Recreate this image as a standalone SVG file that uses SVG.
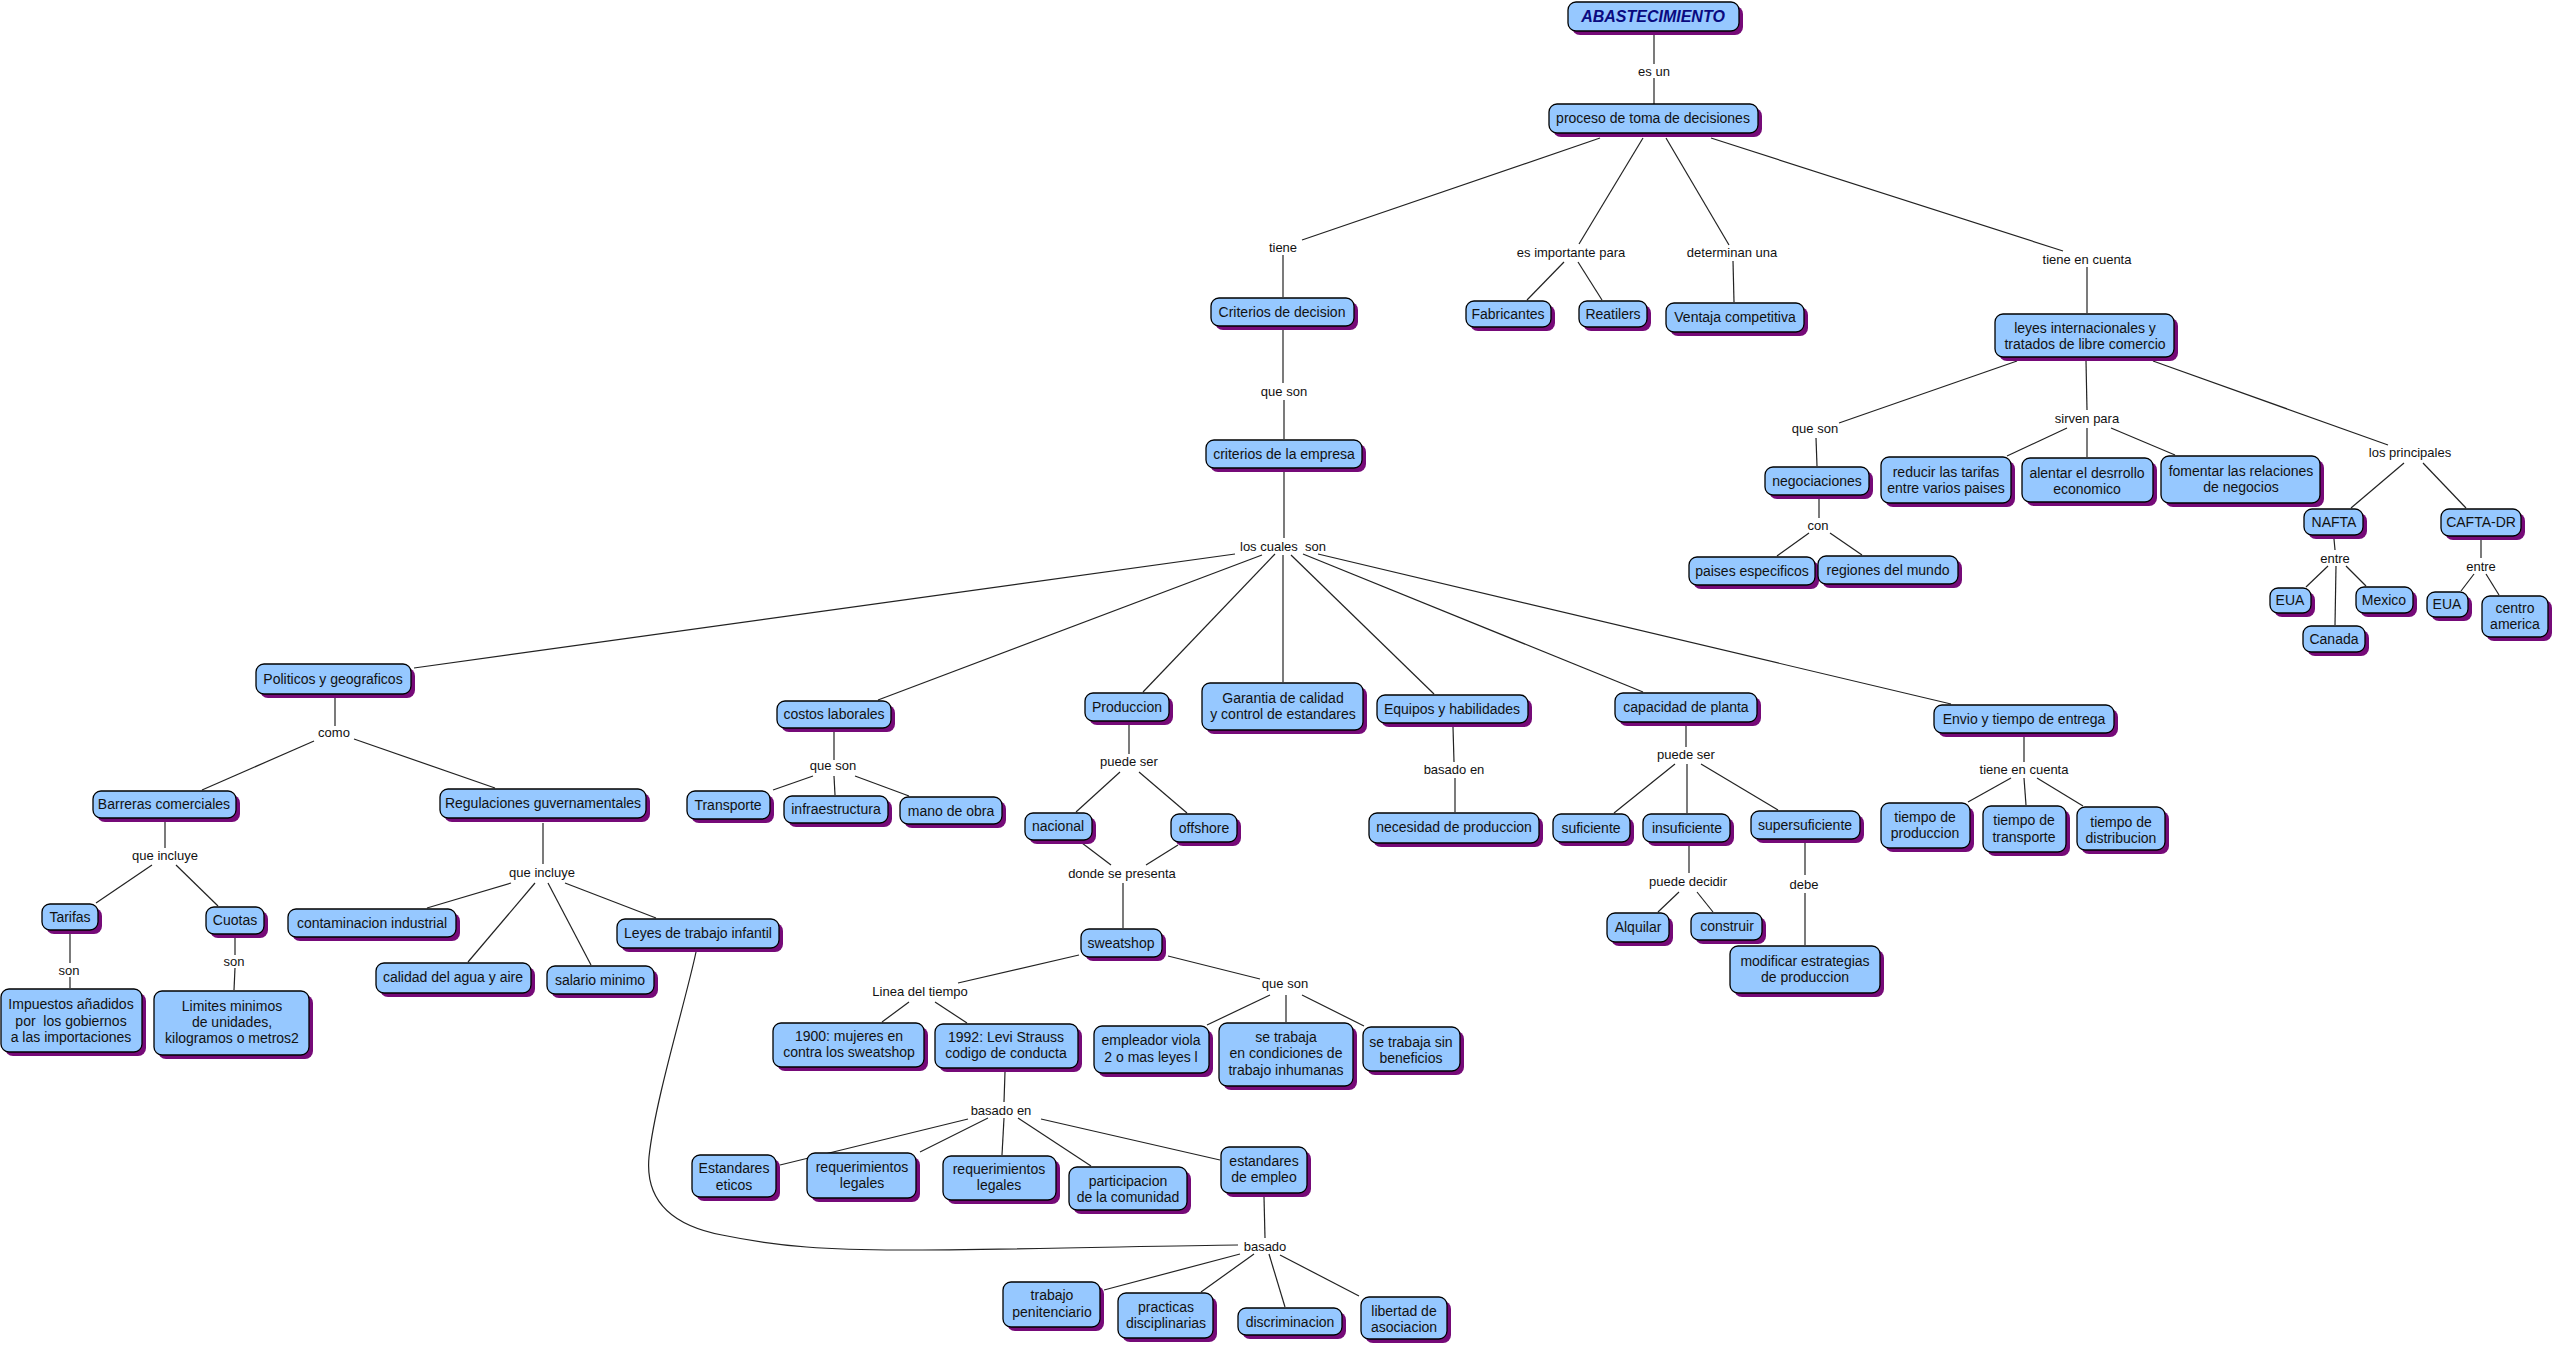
<svg xmlns="http://www.w3.org/2000/svg" width="2553" height="1345" viewBox="0 0 2553 1345">
<style>
.s{fill:#760a78}
.b{fill:#96c8ff;stroke:#000;stroke-width:1.3}
text{font-family:"Liberation Sans",Arial,sans-serif;font-size:14px;text-anchor:middle;fill:#111}
.l{font-size:13px}
.ti{font-weight:bold;font-style:italic;font-size:16px;fill:#0a0a80}
#conn line,#conn path{stroke:#222;stroke-width:1.2;fill:none}
</style>
<rect width="2553" height="1345" fill="#fff"/>
<g id="conn">
<line x1="1654" y1="34" x2="1654" y2="64"/><line x1="1654" y1="78" x2="1654" y2="104"/>
<line x1="1600" y1="138" x2="1302" y2="240"/><line x1="1283" y1="255" x2="1283" y2="297"/>
<line x1="1643" y1="138" x2="1579" y2="244"/><line x1="1564" y1="262" x2="1527" y2="300"/><line x1="1578" y1="262" x2="1602" y2="300"/>
<line x1="1666" y1="138" x2="1729" y2="245"/><line x1="1733" y1="261" x2="1734" y2="302"/>
<line x1="1711" y1="138" x2="2063" y2="251"/><line x1="2087" y1="267" x2="2087" y2="313"/>
<line x1="1283" y1="330" x2="1283" y2="383"/><line x1="1284" y1="400" x2="1284" y2="439"/>
<line x1="2017" y1="361" x2="1839" y2="423"/><line x1="1816" y1="438" x2="1817" y2="466"/>
<line x1="2086" y1="361" x2="2087" y2="410"/><line x1="2067" y1="428" x2="2007" y2="456"/><line x1="2087" y1="428" x2="2087" y2="457"/><line x1="2111" y1="428" x2="2175" y2="455"/>
<line x1="2153" y1="361" x2="2388" y2="445"/><line x1="2404" y1="463" x2="2351" y2="508"/><line x1="2423" y1="463" x2="2466" y2="508"/>
<line x1="1819" y1="499" x2="1819" y2="518"/><line x1="1809" y1="533" x2="1777" y2="556"/><line x1="1830" y1="533" x2="1862" y2="555"/>
<line x1="2334" y1="539" x2="2335" y2="550"/><line x1="2328" y1="566" x2="2306" y2="587"/><line x1="2346" y1="566" x2="2366" y2="586"/><line x1="2336" y1="566" x2="2335" y2="625"/>
<line x1="2481" y1="540" x2="2481" y2="558"/><line x1="2474" y1="574" x2="2461" y2="591"/><line x1="2486" y1="574" x2="2499" y2="595"/>
<line x1="1284" y1="472" x2="1284" y2="538"/>
<line x1="1235" y1="554" x2="414" y2="668"/>
<line x1="1262" y1="555" x2="878" y2="700"/>
<line x1="1275" y1="554" x2="1143" y2="692"/>
<line x1="1283" y1="555" x2="1283" y2="682"/>
<line x1="1291" y1="555" x2="1434" y2="694"/>
<line x1="1303" y1="554" x2="1643" y2="692"/>
<line x1="1318" y1="554" x2="1951" y2="704"/>
<line x1="335" y1="698" x2="335" y2="726"/><line x1="314" y1="741" x2="202" y2="790"/><line x1="354" y1="739" x2="495" y2="788"/>
<line x1="165" y1="821" x2="165" y2="848"/><line x1="152" y1="865" x2="96" y2="903"/><line x1="176" y1="865" x2="218" y2="906"/>
<line x1="543" y1="823" x2="543" y2="864"/><line x1="511" y1="883" x2="427" y2="908"/><line x1="535" y1="883" x2="468" y2="962"/><line x1="548" y1="883" x2="591" y2="965"/><line x1="565" y1="883" x2="656" y2="918"/>
<line x1="70" y1="933" x2="70" y2="963"/><line x1="70" y1="977" x2="70" y2="988"/>
<line x1="235" y1="938" x2="235" y2="955"/><line x1="235" y1="968" x2="234" y2="990"/>
<line x1="834" y1="732" x2="834" y2="760"/><line x1="813" y1="776" x2="773" y2="790"/><line x1="834" y1="776" x2="835" y2="795"/><line x1="855" y1="776" x2="909" y2="796"/>
<line x1="1129" y1="724" x2="1129" y2="754"/><line x1="1120" y1="772" x2="1076" y2="812"/><line x1="1139" y1="772" x2="1187" y2="813"/>
<line x1="1082" y1="843" x2="1111" y2="865"/><line x1="1178" y1="845" x2="1146" y2="865"/><line x1="1123" y1="883" x2="1123" y2="928"/>
<line x1="1453" y1="727" x2="1454" y2="762"/><line x1="1455" y1="778" x2="1455" y2="812"/>
<line x1="1686" y1="726" x2="1686" y2="747"/><line x1="1675" y1="764" x2="1614" y2="813"/><line x1="1687" y1="764" x2="1687" y2="813"/><line x1="1701" y1="764" x2="1778" y2="810"/>
<line x1="2024" y1="737" x2="2024" y2="762"/><line x1="2011" y1="778" x2="1968" y2="802"/><line x1="2024" y1="778" x2="2026" y2="805"/><line x1="2037" y1="778" x2="2083" y2="806"/>
<line x1="1689" y1="846" x2="1689" y2="873"/><line x1="1679" y1="892" x2="1658" y2="912"/><line x1="1697" y1="892" x2="1713" y2="912"/>
<line x1="1805" y1="843" x2="1805" y2="875"/><line x1="1805" y1="893" x2="1805" y2="945"/>
<line x1="1079" y1="955" x2="958" y2="983"/><line x1="909" y1="1002" x2="882" y2="1022"/><line x1="935" y1="1002" x2="967" y2="1023"/>
<line x1="1168" y1="956" x2="1260" y2="979"/><line x1="1270" y1="995" x2="1207" y2="1025"/><line x1="1286" y1="995" x2="1286" y2="1022"/><line x1="1302" y1="995" x2="1364" y2="1026"/>
<line x1="1005" y1="1072" x2="1004" y2="1102"/><line x1="968" y1="1119" x2="780" y2="1165"/><line x1="988" y1="1118" x2="920" y2="1152"/><line x1="1004" y1="1118" x2="1002" y2="1155"/><line x1="1018" y1="1118" x2="1091" y2="1166"/><line x1="1041" y1="1119" x2="1220" y2="1160"/>
<line x1="1264" y1="1197" x2="1265" y2="1238"/>
<path d="M696,952 C686,1000 655,1100 649,1157 C645,1200 670,1225 722,1235 C780,1247 830,1250 900,1250 C1000,1250 1150,1246 1238,1245"/>
<line x1="1240" y1="1254" x2="1104" y2="1290"/><line x1="1254" y1="1254" x2="1201" y2="1292"/><line x1="1269" y1="1254" x2="1285" y2="1307"/><line x1="1280" y1="1255" x2="1359" y2="1296"/>
</g>
<g id="labels">
<text class="l" x="1654" y="76">es un</text>
<text class="l" x="1283" y="252">tiene</text>
<text class="l" x="1571" y="257">es importante para</text>
<text class="l" x="1732" y="257">determinan una</text>
<text class="l" x="2087" y="264">tiene en cuenta</text>
<text class="l" x="1284" y="396">que son</text>
<text class="l" x="1815" y="433">que son</text>
<text class="l" x="2087" y="423">sirven para</text>
<text class="l" x="2410" y="457">los principales</text>
<text class="l" x="1818" y="530">con</text>
<text class="l" x="2335" y="563">entre</text>
<text class="l" x="2481" y="571">entre</text>
<text class="l" x="1283" y="551" xml:space="preserve">los cuales  son</text>
<text class="l" x="334" y="737">como</text>
<text class="l" x="833" y="770">que son</text>
<text class="l" x="1129" y="766">puede ser</text>
<text class="l" x="1454" y="774">basado en</text>
<text class="l" x="1686" y="759">puede ser</text>
<text class="l" x="2024" y="774">tiene en cuenta</text>
<text class="l" x="165" y="860">que incluye</text>
<text class="l" x="542" y="877">que incluye</text>
<text class="l" x="1122" y="878">donde se presenta</text>
<text class="l" x="1688" y="886">puede decidir</text>
<text class="l" x="1804" y="889">debe</text>
<text class="l" x="69" y="975">son</text>
<text class="l" x="234" y="966">son</text>
<text class="l" x="920" y="996">Linea del tiempo</text>
<text class="l" x="1285" y="988">que son</text>
<text class="l" x="1001" y="1115">basado en</text>
<text class="l" x="1265" y="1251">basado</text>
</g>
<g id="n-abast"><rect class="s" x="1572" y="6" width="171" height="29" rx="8"/><rect class="b" x="1568" y="2" width="171" height="29" rx="8"/><text class="ti" x="1653" y="22">ABASTECIMIENTO</text></g>
<g id="n-proceso"><rect class="s" x="1553" y="108" width="209" height="29" rx="8"/><rect class="b" x="1549" y="104" width="209" height="29" rx="8"/><text x="1653" y="123">proceso de toma de decisiones</text></g>
<g id="n-criterios"><rect class="s" x="1215" y="302" width="143" height="28" rx="8"/><rect class="b" x="1211" y="298" width="143" height="28" rx="8"/><text x="1282" y="317">Criterios de decision</text></g>
<g id="n-fabricantes"><rect class="s" x="1470" y="305" width="85" height="26" rx="8"/><rect class="b" x="1466" y="301" width="85" height="26" rx="8"/><text x="1508" y="319">Fabricantes</text></g>
<g id="n-reatilers"><rect class="s" x="1583" y="305" width="68" height="26" rx="8"/><rect class="b" x="1579" y="301" width="68" height="26" rx="8"/><text x="1613" y="319">Reatilers</text></g>
<g id="n-ventaja"><rect class="s" x="1670" y="307" width="138" height="29" rx="8"/><rect class="b" x="1666" y="303" width="138" height="29" rx="8"/><text x="1735" y="322">Ventaja competitiva</text></g>
<g id="n-leyes"><rect class="s" x="1999" y="318" width="179" height="43" rx="8"/><rect class="b" x="1995" y="314" width="179" height="43" rx="8"/><text x="2085" y="333">leyes internacionales y</text><text x="2085" y="349">tratados de libre comercio</text></g>
<g id="n-empresa"><rect class="s" x="1210" y="444" width="156" height="28" rx="8"/><rect class="b" x="1206" y="440" width="156" height="28" rx="8"/><text x="1284" y="459">criterios de la empresa</text></g>
<g id="n-negociaciones"><rect class="s" x="1769" y="471" width="104" height="28" rx="8"/><rect class="b" x="1765" y="467" width="104" height="28" rx="8"/><text x="1817" y="486">negociaciones</text></g>
<g id="n-reducir"><rect class="s" x="1885" y="461" width="130" height="46" rx="8"/><rect class="b" x="1881" y="457" width="130" height="46" rx="8"/><text x="1946" y="477">reducir las tarifas</text><text x="1946" y="493">entre varios paises</text></g>
<g id="n-alentar"><rect class="s" x="2026" y="462" width="131" height="44" rx="8"/><rect class="b" x="2022" y="458" width="131" height="44" rx="8"/><text x="2087" y="478">alentar el desrrollo</text><text x="2087" y="494">economico</text></g>
<g id="n-fomentar"><rect class="s" x="2165" y="460" width="159" height="47" rx="8"/><rect class="b" x="2161" y="456" width="159" height="47" rx="8"/><text x="2241" y="476">fomentar las relaciones</text><text x="2241" y="492">de negocios</text></g>
<g id="n-paises"><rect class="s" x="1693" y="561" width="126" height="28" rx="8"/><rect class="b" x="1689" y="557" width="126" height="28" rx="8"/><text x="1752" y="576">paises especificos</text></g>
<g id="n-regiones"><rect class="s" x="1822" y="560" width="140" height="28" rx="8"/><rect class="b" x="1818" y="556" width="140" height="28" rx="8"/><text x="1888" y="575">regiones del mundo</text></g>
<g id="n-nafta"><rect class="s" x="2308" y="513" width="59" height="26" rx="8"/><rect class="b" x="2304" y="509" width="59" height="26" rx="8"/><text x="2334" y="527">NAFTA</text></g>
<g id="n-cafta"><rect class="s" x="2445" y="513" width="80" height="27" rx="8"/><rect class="b" x="2441" y="509" width="80" height="27" rx="8"/><text x="2481" y="527">CAFTA-DR</text></g>
<g id="n-eua1"><rect class="s" x="2274" y="592" width="41" height="25" rx="8"/><rect class="b" x="2270" y="588" width="41" height="25" rx="8"/><text x="2290" y="605">EUA</text></g>
<g id="n-mexico"><rect class="s" x="2360" y="591" width="57" height="26" rx="8"/><rect class="b" x="2356" y="587" width="57" height="26" rx="8"/><text x="2384" y="605">Mexico</text></g>
<g id="n-canada"><rect class="s" x="2307" y="630" width="62" height="26" rx="8"/><rect class="b" x="2303" y="626" width="62" height="26" rx="8"/><text x="2334" y="644">Canada</text></g>
<g id="n-eua2"><rect class="s" x="2431" y="596" width="41" height="25" rx="8"/><rect class="b" x="2427" y="592" width="41" height="25" rx="8"/><text x="2447" y="609">EUA</text></g>
<g id="n-centro"><rect class="s" x="2486" y="600" width="66" height="41" rx="8"/><rect class="b" x="2482" y="596" width="66" height="41" rx="8"/><text x="2515" y="613">centro</text><text x="2515" y="629">america</text></g>
<g id="n-politicos"><rect class="s" x="260" y="668" width="155" height="30" rx="8"/><rect class="b" x="256" y="664" width="155" height="30" rx="8"/><text x="333" y="684">Politicos y geograficos</text></g>
<g id="n-costos"><rect class="s" x="781" y="705" width="114" height="27" rx="8"/><rect class="b" x="777" y="701" width="114" height="27" rx="8"/><text x="834" y="719">costos laborales</text></g>
<g id="n-produccion"><rect class="s" x="1089" y="697" width="84" height="28" rx="8"/><rect class="b" x="1085" y="693" width="84" height="28" rx="8"/><text x="1127" y="712">Produccion</text></g>
<g id="n-garantia"><rect class="s" x="1206" y="687" width="161" height="47" rx="8"/><rect class="b" x="1202" y="683" width="161" height="47" rx="8"/><text x="1283" y="703">Garantia de calidad</text><text x="1283" y="719">y control de estandares</text></g>
<g id="n-equipos"><rect class="s" x="1381" y="699" width="151" height="28" rx="8"/><rect class="b" x="1377" y="695" width="151" height="28" rx="8"/><text x="1452" y="714">Equipos y habilidades</text></g>
<g id="n-capacidad"><rect class="s" x="1619" y="697" width="142" height="29" rx="8"/><rect class="b" x="1615" y="693" width="142" height="29" rx="8"/><text x="1686" y="712">capacidad de planta</text></g>
<g id="n-envio"><rect class="s" x="1938" y="709" width="180" height="28" rx="8"/><rect class="b" x="1934" y="705" width="180" height="28" rx="8"/><text x="2024" y="724">Envio y tiempo de entrega</text></g>
<g id="n-barreras"><rect class="s" x="97" y="795" width="143" height="27" rx="8"/><rect class="b" x="93" y="791" width="143" height="27" rx="8"/><text x="164" y="809">Barreras comerciales</text></g>
<g id="n-regulaciones"><rect class="s" x="444" y="793" width="206" height="29" rx="8"/><rect class="b" x="440" y="789" width="206" height="29" rx="8"/><text x="543" y="808">Regulaciones guvernamentales</text></g>
<g id="n-transporte"><rect class="s" x="691" y="795" width="83" height="28" rx="8"/><rect class="b" x="687" y="791" width="83" height="28" rx="8"/><text x="728" y="810">Transporte</text></g>
<g id="n-infra"><rect class="s" x="788" y="800" width="104" height="27" rx="8"/><rect class="b" x="784" y="796" width="104" height="27" rx="8"/><text x="836" y="814">infraestructura</text></g>
<g id="n-mano"><rect class="s" x="904" y="801" width="102" height="27" rx="8"/><rect class="b" x="900" y="797" width="102" height="27" rx="8"/><text x="951" y="816">mano de obra</text></g>
<g id="n-nacional"><rect class="s" x="1029" y="817" width="67" height="27" rx="8"/><rect class="b" x="1025" y="813" width="67" height="27" rx="8"/><text x="1058" y="831">nacional</text></g>
<g id="n-offshore"><rect class="s" x="1175" y="818" width="66" height="28" rx="8"/><rect class="b" x="1171" y="814" width="66" height="28" rx="8"/><text x="1204" y="833">offshore</text></g>
<g id="n-necesidad"><rect class="s" x="1373" y="817" width="170" height="30" rx="8"/><rect class="b" x="1369" y="813" width="170" height="30" rx="8"/><text x="1454" y="832">necesidad de produccion</text></g>
<g id="n-suficiente"><rect class="s" x="1557" y="818" width="77" height="28" rx="8"/><rect class="b" x="1553" y="814" width="77" height="28" rx="8"/><text x="1591" y="833">suficiente</text></g>
<g id="n-insuficiente"><rect class="s" x="1647" y="818" width="87" height="28" rx="8"/><rect class="b" x="1643" y="814" width="87" height="28" rx="8"/><text x="1687" y="833">insuficiente</text></g>
<g id="n-supersuficiente"><rect class="s" x="1755" y="815" width="109" height="28" rx="8"/><rect class="b" x="1751" y="811" width="109" height="28" rx="8"/><text x="1805" y="830">supersuficiente</text></g>
<g id="n-tprod"><rect class="s" x="1885" y="807" width="89" height="45" rx="8"/><rect class="b" x="1881" y="803" width="89" height="45" rx="8"/><text x="1925" y="822">tiempo de</text><text x="1925" y="838">produccion</text></g>
<g id="n-ttrans"><rect class="s" x="1987" y="810" width="83" height="46" rx="8"/><rect class="b" x="1983" y="806" width="83" height="46" rx="8"/><text x="2024" y="825">tiempo de</text><text x="2024" y="842">transporte</text></g>
<g id="n-tdist"><rect class="s" x="2081" y="811" width="88" height="43" rx="8"/><rect class="b" x="2077" y="807" width="88" height="43" rx="8"/><text x="2121" y="827">tiempo de</text><text x="2121" y="843">distribucion</text></g>
<g id="n-tarifas"><rect class="s" x="46" y="908" width="56" height="26" rx="8"/><rect class="b" x="42" y="904" width="56" height="26" rx="8"/><text x="70" y="922">Tarifas</text></g>
<g id="n-cuotas"><rect class="s" x="210" y="911" width="58" height="27" rx="8"/><rect class="b" x="206" y="907" width="58" height="27" rx="8"/><text x="235" y="925">Cuotas</text></g>
<g id="n-contaminacion"><rect class="s" x="292" y="913" width="168" height="28" rx="8"/><rect class="b" x="288" y="909" width="168" height="28" rx="8"/><text x="372" y="928">contaminacion industrial</text></g>
<g id="n-leyesinf"><rect class="s" x="621" y="923" width="162" height="29" rx="8"/><rect class="b" x="617" y="919" width="162" height="29" rx="8"/><text x="698" y="938">Leyes de trabajo infantil</text></g>
<g id="n-calidad"><rect class="s" x="380" y="967" width="155" height="30" rx="8"/><rect class="b" x="376" y="963" width="155" height="30" rx="8"/><text x="453" y="982">calidad del agua y aire</text></g>
<g id="n-salario"><rect class="s" x="551" y="970" width="107" height="28" rx="8"/><rect class="b" x="547" y="966" width="107" height="28" rx="8"/><text x="600" y="985">salario minimo</text></g>
<g id="n-impuestos"><rect class="s" x="5" y="993" width="141" height="63" rx="8"/><rect class="b" x="1" y="989" width="141" height="63" rx="8"/><text x="71" y="1009">Impuestos añadidos</text><text x="71" y="1026" xml:space="preserve">por  los gobiernos</text><text x="71" y="1042">a las importaciones</text></g>
<g id="n-limites"><rect class="s" x="158" y="995" width="155" height="64" rx="8"/><rect class="b" x="154" y="991" width="155" height="64" rx="8"/><text x="232" y="1011">Limites minimos</text><text x="232" y="1027">de unidades,</text><text x="232" y="1043">kilogramos o metros2</text></g>
<g id="n-sweatshop"><rect class="s" x="1085" y="933" width="81" height="28" rx="8"/><rect class="b" x="1081" y="929" width="81" height="28" rx="8"/><text x="1121" y="948">sweatshop</text></g>
<g id="n-alquilar"><rect class="s" x="1611" y="917" width="62" height="29" rx="8"/><rect class="b" x="1607" y="913" width="62" height="29" rx="8"/><text x="1638" y="932">Alquilar</text></g>
<g id="n-construir"><rect class="s" x="1695" y="917" width="71" height="27" rx="8"/><rect class="b" x="1691" y="913" width="71" height="27" rx="8"/><text x="1727" y="931">construir</text></g>
<g id="n-modificar"><rect class="s" x="1734" y="950" width="150" height="47" rx="8"/><rect class="b" x="1730" y="946" width="150" height="47" rx="8"/><text x="1805" y="966">modificar estrategias</text><text x="1805" y="982">de produccion</text></g>
<g id="n-1900"><rect class="s" x="777" y="1027" width="151" height="44" rx="8"/><rect class="b" x="773" y="1023" width="151" height="44" rx="8"/><text x="849" y="1041">1900: mujeres en</text><text x="849" y="1057">contra los sweatshop</text></g>
<g id="n-1992"><rect class="s" x="939" y="1028" width="143" height="44" rx="8"/><rect class="b" x="935" y="1024" width="143" height="44" rx="8"/><text x="1006" y="1042">1992: Levi Strauss</text><text x="1006" y="1058">codigo de conducta</text></g>
<g id="n-empleador"><rect class="s" x="1098" y="1030" width="115" height="47" rx="8"/><rect class="b" x="1094" y="1026" width="115" height="47" rx="8"/><text x="1151" y="1045">empleador viola</text><text x="1151" y="1062">2 o mas leyes l</text></g>
<g id="n-setrabaja"><rect class="s" x="1223" y="1027" width="134" height="63" rx="8"/><rect class="b" x="1219" y="1023" width="134" height="63" rx="8"/><text x="1286" y="1042">se trabaja</text><text x="1286" y="1058">en condiciones de</text><text x="1286" y="1075">trabajo inhumanas</text></g>
<g id="n-sinbeneficios"><rect class="s" x="1367" y="1031" width="97" height="44" rx="8"/><rect class="b" x="1363" y="1027" width="97" height="44" rx="8"/><text x="1411" y="1047">se trabaja sin</text><text x="1411" y="1063">beneficios</text></g>
<g id="n-eticos"><rect class="s" x="696" y="1159" width="84" height="42" rx="8"/><rect class="b" x="692" y="1155" width="84" height="42" rx="8"/><text x="734" y="1173">Estandares</text><text x="734" y="1190">eticos</text></g>
<g id="n-req1"><rect class="s" x="811" y="1157" width="109" height="45" rx="8"/><rect class="b" x="807" y="1153" width="109" height="45" rx="8"/><text x="862" y="1172">requerimientos</text><text x="862" y="1188">legales</text></g>
<g id="n-req2"><rect class="s" x="947" y="1160" width="113" height="44" rx="8"/><rect class="b" x="943" y="1156" width="113" height="44" rx="8"/><text x="999" y="1174">requerimientos</text><text x="999" y="1190">legales</text></g>
<g id="n-participacion"><rect class="s" x="1073" y="1171" width="118" height="43" rx="8"/><rect class="b" x="1069" y="1167" width="118" height="43" rx="8"/><text x="1128" y="1186">participacion</text><text x="1128" y="1202">de la comunidad</text></g>
<g id="n-estempleo"><rect class="s" x="1225" y="1151" width="86" height="46" rx="8"/><rect class="b" x="1221" y="1147" width="86" height="46" rx="8"/><text x="1264" y="1166">estandares</text><text x="1264" y="1182">de empleo</text></g>
<g id="n-penitenciario"><rect class="s" x="1007" y="1286" width="97" height="45" rx="8"/><rect class="b" x="1003" y="1282" width="97" height="45" rx="8"/><text x="1052" y="1300">trabajo</text><text x="1052" y="1317">penitenciario</text></g>
<g id="n-practicas"><rect class="s" x="1122" y="1297" width="95" height="45" rx="8"/><rect class="b" x="1118" y="1293" width="95" height="45" rx="8"/><text x="1166" y="1312">practicas</text><text x="1166" y="1328">disciplinarias</text></g>
<g id="n-discriminacion"><rect class="s" x="1242" y="1312" width="104" height="27" rx="8"/><rect class="b" x="1238" y="1308" width="104" height="27" rx="8"/><text x="1290" y="1327">discriminacion</text></g>
<g id="n-libertad"><rect class="s" x="1365" y="1301" width="86" height="42" rx="8"/><rect class="b" x="1361" y="1297" width="86" height="42" rx="8"/><text x="1404" y="1316">libertad de</text><text x="1404" y="1332">asociacion</text></g>
</svg>
